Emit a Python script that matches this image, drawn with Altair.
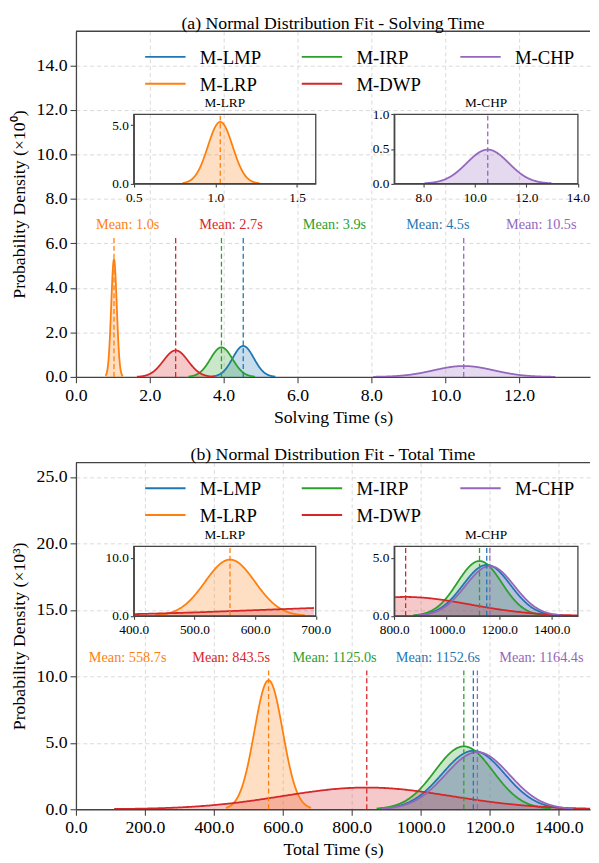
import altair as alt
import pandas as pd

FONT = "Liberation Serif"
SPINE = "#444444"
GRID = "#d0d0d0"

SERIES = ["M-LMP", "M-LRP", "M-IRP", "M-DWP", "M-CHP"]
COLORS = ["#1f77b4", "#ff7f0e", "#2ca02c", "#d62728", "#9467bd"]

# (a) Solving time: fitted normal parameters
A_MEAN = [4.53, 1.03, 3.94, 2.70, 10.50]
A_SD = [0.287, 0.0756, 0.300, 0.335, 0.814]
A_LO = [3.68, 0.80, 3.05, 1.65, 8.05]
A_HI = [5.40, 1.27, 4.85, 3.76, 12.98]
A_LABEL_X = [9.8, 1.4, 7.0, 4.2, 12.6]
A_XTICKS = [0, 2, 4, 6, 8, 10, 12]
A_YTICKS = [0, 2, 4, 6, 8, 10, 12, 14]
A_XMAX, A_YMAX = 13.92, 15.53
A_INSETS = [
    dict(name="M-LRP", xdom=[0.5, 1.615], ydom=[0, 5.93], xticks=[0.5, 1.0, 1.5], yticks=[0, 5]),
    dict(name="M-CHP", xdom=[6.87, 14.0], ydom=[0, 1.0], xticks=[8, 10, 12, 14], yticks=[0, 0.5, 1.0]),
]

# (b) Total time
B_MEAN = [1152.6, 558.7, 1125.0, 843.5, 1164.4]
B_SD = [90.7, 41.1, 84.3, 244.0, 92.8]
B_LO = [880, 435, 872, 111, 886]
B_HI = [1425, 682, 1378, 1576, 1443]
B_LABEL_X = [1050, 150, 750, 450, 1350]
B_XTICKS = [0, 200, 400, 600, 800, 1000, 1200, 1400]
B_YTICKS = [0, 5, 10, 15, 20, 25]
B_XMAX, B_YMAX = 1491, 26.09
B_INSETS = [
    dict(name="M-LRP", xdom=[400, 700], ydom=[0, 12.0], xticks=[400, 500, 600, 700], yticks=[0, 10]),
    dict(name="M-CHP", xdom=[800, 1500], ydom=[0, 6.0], xticks=[800, 1000, 1200, 1400], yticks=[0, 5]),
]

W = 522
INSET_X = [[58.7, 243.5], [323.2, 509.7]]
LEG_COL_X = [70.3, 229.3, 390.3]   # legend column starts (px from plot left)
LEG_ROW_Y = [26.0, 53.3]           # legend row centres (px from plot top)
LEG_LINE, LEG_GAP = 41, 14.5


def color_enc():
    return alt.Color("series:N", scale=alt.Scale(domain=SERIES, range=COLORS), legend=None)


def legend_layers():
    one = pd.DataFrame({"a": [0]})
    out = []
    for i, (s, c) in enumerate(zip(SERIES, COLORS)):
        col, row = divmod(i, 2)
        x, y = LEG_COL_X[col], LEG_ROW_Y[row]
        out.append(alt.Chart(one).mark_rule(color=c, strokeWidth=2)
                   .encode(x=alt.value(x), x2=alt.value(x + LEG_LINE), y=alt.value(y)))
        out.append(alt.Chart(one).mark_text(text=s, font=FONT, fontSize=19, align="left",
                                            baseline="middle", color="black")
                   .encode(x=alt.value(x + LEG_LINE + LEG_GAP), y=alt.value(y + 1)))
    return out


def panel(title, xtitle, ytitle, mean, sd, lo, hi, label_x, k, xmax, ymax, ref_ymax,
          xticks, yticks, insets, H, inset_y):
    df = pd.DataFrame(dict(series=SERIES, mean=mean, sd=sd, lo=lo, hi=hi, lx=label_x))
    curves = (
        alt.Chart(df)
        .transform_calculate(t="sequence(0, 1.0001, 0.0025)")
        .transform_flatten(["t"])
        .transform_calculate(x="datum.lo + datum.t * (datum.hi - datum.lo)")
        .transform_calculate(
            y=f"{k} * exp(-0.5 * pow((datum.x - datum.mean) / datum.sd, 2)) / (datum.sd * sqrt(2 * PI))"
        )
    )
    xs = alt.Scale(domain=[0, xmax], nice=False, zero=False)
    ys = alt.Scale(domain=[0, ymax], nice=False, zero=False)
    xax = alt.Axis(values=xticks, format=".1f", title=xtitle, grid=True, labelFlush=False,
                   labelOverlap=False, tickSize=6, labelPadding=4, titlePadding=4)
    yax = alt.Axis(values=yticks, format=".1f", title=ytitle, grid=True, labelFlush=False,
                   labelOverlap=False, tickSize=6, labelPadding=3, titlePadding=8)
    X = alt.X("x:Q", scale=xs, axis=xax)
    Y = alt.Y("y:Q", scale=ys, axis=yax, stack=False)
    area = curves.mark_area(fillOpacity=0.25, clip=True).encode(X, Y, color=color_enc())
    line = curves.mark_line(strokeWidth=1.8, clip=True).encode(X, Y, color=color_enc())
    rules = (
        alt.Chart(df)
        .transform_calculate(r0="0", r1=f"{0.4 * ref_ymax}")
        .mark_rule(strokeDash=[5, 3], strokeWidth=1.3)
        .encode(x=alt.X("mean:Q", scale=xs, axis=xax), y=alt.Y("r0:Q", scale=ys, axis=yax),
                y2="r1:Q", color=color_enc())
    )
    texts = (
        alt.Chart(df)
        .transform_calculate(ly=f"{0.437 * ref_ymax}",
                             label="'Mean: ' + format(datum.mean, '.1f') + 's'")
        .mark_text(font=FONT, fontSize=14.5, baseline="middle", align="center")
        .encode(x=alt.X("lx:Q", scale=xs, axis=xax), y=alt.Y("ly:Q", scale=ys, axis=yax),
                text="label:N", color=color_enc())
    )
    spine = (
        alt.Chart(pd.DataFrame({"a": [0]}))
        .mark_rule(color=SPINE, strokeWidth=1.3)
        .encode(x=alt.value(0), x2=alt.value(W), y=alt.value(0))
    )
    main = alt.layer(area, line, rules, texts, spine, *legend_layers())

    layers = [main]
    py0, py1 = inset_y
    for ins, (px0, px1) in zip(insets, INSET_X):
        x0, x1 = ins["xdom"]
        y0, y1 = ins["ydom"]
        ixs = alt.Scale(domain=[x0, x1], range=[px0, px1], nice=False, zero=False)
        iys = alt.Scale(domain=[y0, y1], range=[py1, py0], nice=False, zero=False)
        ixax = alt.Axis(orient="bottom", offset=py1 - H, values=ins["xticks"], format=".1f",
                        grid=False, title=None, labelFontSize=13.5, tickSize=3.5,
                        labelPadding=3.5, labelFlush=False, labelOverlap=False)
        iyax = alt.Axis(orient="left", offset=-px0, values=ins["yticks"], format=".1f",
                        grid=False, title=None, labelFontSize=13.5, tickSize=3.5,
                        labelPadding=2, labelFlush=False, labelOverlap=False)
        IX = alt.X("x:Q", scale=ixs, axis=ixax)
        IY = alt.Y("y:Q", scale=iys, axis=iyax, stack=False)
        filt = f"datum.x >= {x0} && datum.x <= {x1}"
        iarea = curves.transform_filter(filt).mark_area(fillOpacity=0.25).encode(IX, IY, color=color_enc())
        iline = curves.transform_filter(filt).mark_line(strokeWidth=1.8).encode(IX, IY, color=color_enc())
        irules = (
            alt.Chart(df)
            .transform_filter(f"datum.mean >= {x0} && datum.mean <= {x1}")
            .transform_calculate(r0=f"{y0}", r1=f"{y1}")
            .mark_rule(strokeDash=[5, 3], strokeWidth=1.3)
            .encode(x=alt.X("mean:Q", scale=ixs, axis=ixax), y=alt.Y("r0:Q", scale=iys, axis=iyax),
                    y2="r1:Q", color=color_enc())
        )
        fdf = pd.DataFrame({"x0": [x0], "x1": [x1], "y0": [y0], "y1": [y1], "name": [ins["name"]]})
        frame = (
            alt.Chart(fdf)
            .mark_rect(fillOpacity=0, stroke=SPINE, strokeWidth=1.3)
            .encode(x=alt.X("x0:Q", scale=ixs, axis=ixax), x2="x1:Q",
                    y=alt.Y("y0:Q", scale=iys, axis=iyax), y2="y1:Q")
        )
        ititle = (
            alt.Chart(fdf)
            .transform_calculate(xm="(datum.x0 + datum.x1) / 2")
            .mark_text(font=FONT, fontSize=13.5, baseline="bottom", dy=-4, color="black")
            .encode(x=alt.X("xm:Q", scale=ixs, axis=ixax), y=alt.Y("y1:Q", scale=iys, axis=iyax),
                    text="name:N")
        )
        layers.append(alt.layer(iarea, iline, irules, frame, ititle))

    return (
        alt.layer(*layers)
        .resolve_scale(x="independent", y="independent")
        .properties(width=W, height=H,
                    title=alt.TitleParams(title, fontSize=18, font=FONT, fontWeight="normal",
                                          anchor="middle", offset=-2))
    )


top = panel("(a) Normal Distribution Fit - Solving Time", "Solving Time (s)",
            "Probability Density (×10⁰)", A_MEAN, A_SD, A_LO, A_HI, A_LABEL_X, 1,
            A_XMAX, A_YMAX, 15.63, A_XTICKS, A_YTICKS, A_INSETS, 351, (84.3, 154.7))
bottom = panel("(b) Normal Distribution Fit - Total Time", "Total Time (s)",
               "Probability Density (×10³)", B_MEAN, B_SD, B_LO, B_HI, B_LABEL_X, 1000,
               B_XMAX, B_YMAX, B_YMAX, B_XTICKS, B_YTICKS, B_INSETS, 352, (85.0, 155.7))

chart = (
    alt.vconcat(top, bottom, spacing=20)
    .properties(padding={"left": 2, "top": 0, "right": 0, "bottom": 0})
    .configure(font=FONT)
    .configure_view(strokeWidth=0)
    .configure_axis(labelFont=FONT, titleFont=FONT, labelFontSize=18, titleFontSize=18,
                    titleFontWeight="normal", labelColor="black", titleColor="black",
                    domainColor=SPINE, domainWidth=1.3, tickColor=SPINE, tickWidth=1.1,
                    gridColor=GRID, gridDash=[4, 3], gridWidth=0.8)
)

chart.save("out.html", embed_options={"renderer": "svg", "actions": False})
